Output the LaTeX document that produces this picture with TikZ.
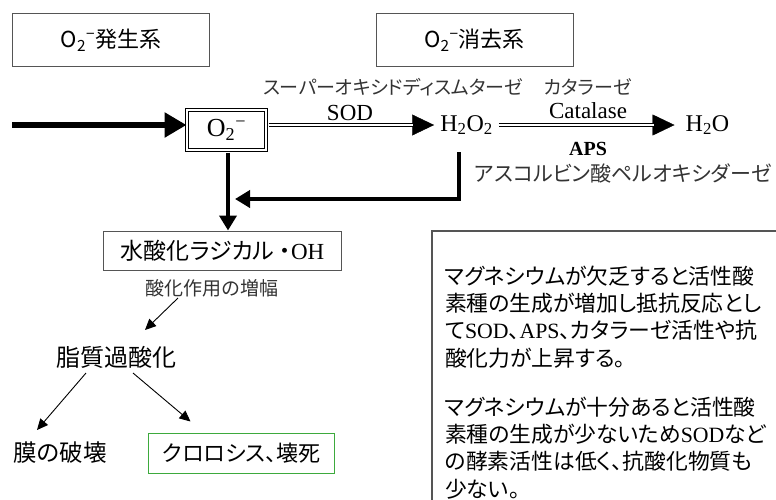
\documentclass[tikz,border=0pt]{standalone}
\usepackage{fontspec}
\setmainfont{Liberation Serif}
\newfontfamily\cjk[CharacterWidth=AlternateProportional]{Noto Sans CJK JP}
\usetikzlibrary{arrows.meta,calc}
\definecolor{bordergray}{HTML}{555555}
\definecolor{lblgray}{HTML}{333333}
\definecolor{boxgreen}{HTML}{3DAA3D}
\newcommand{\fs}[1]{\fontsize{#1}{#1}\selectfont}
\tikzset{
  hdr/.style={draw=bordergray, line width=1pt, minimum width=197pt, minimum height=53pt, inner sep=0pt, font=\cjk\fs{22}},
  o2b/.style={draw=black, double, double distance=2pt, line width=1pt, minimum width=79pt, minimum height=40pt, inner sep=0pt, font=\fs{26}},
  lbl/.style={inner sep=0pt, text=lblgray},
  chem/.style={inner ysep=0pt, font=\fs{24}},
  txt/.style={inner sep=0pt},
  hbox/.style={draw=bordergray, line width=1pt, minimum width=238pt, minimum height=39pt, inner sep=0pt, font=\cjk\fs{23}},
  gbox/.style={draw=boxgreen, line width=1pt, minimum width=186pt, minimum height=40pt, inner sep=0pt, font=\cjk\fs{22}},
  thickarr/.style={line width=6.5pt, -{Triangle[length=22pt,width=24pt]}},
  medarr/.style={line width=4pt, -{Triangle[length=15pt,width=17pt]}},
  tipline/.style={line width=0.4pt, -{Triangle[length=22pt,width=21pt]}},
  dbl/.style={double, double distance=2.4pt, line width=1.2pt},
  thinarr/.style={line width=0.9pt, -{Triangle[length=11pt,width=10pt]}},
  note/.style={inner sep=0pt, anchor=text, align=left, font=\cjk\fontsize{21.8}{27.3}\selectfont}
}
\begin{document}
\begin{tikzpicture}[x=1pt,y=-1pt]
\useasboundingbox (0,0) rectangle (776,499);

% header boxes
\node[hdr] (gen) at (111,40) {O\textsubscript{2}\textsuperscript{−}発生系\hspace{10pt}};
\node[hdr] (del) at (474.5,40) {O\textsubscript{2}\textsuperscript{−}消去系\hspace{10pt}};

% enzyme names
\node[lbl, font=\cjk\fs{19}] (sodname) at (393,87) {スーパーオキシドディスムターゼ};
\node[lbl, font=\cjk\fs{19}] (catname) at (588,87) {カタラーゼ};
\node[txt, font=\fs{23}] (sod) at (350,113) {SOD};
\node[txt, font=\fs{23}] (cat) at (588,111) {Catalase};
\node[txt, font=\fs{20}\bfseries] (aps) at (588,149) {APS};
\node[lbl, font=\cjk\fs{21}] (apsname) at (623,173) {アスコルビン酸ペルオキシダーゼ};

% species
\coordinate (start) at (12,125);
\node[o2b] (o2) at (226.5,130) {O\textsubscript{2}\textsuperscript{−}\hspace{22pt}};
\node[chem, inner xsep=6pt] (h2o2) at (466.5,125) {H\textsubscript{2}O\textsubscript{2}};
\node[chem, inner xsep=11pt] (h2o) at (707.5,125) {H\textsubscript{2}O};

% main arrows
\draw[thickarr] (start) -- (start -| o2.west);
\draw[tipline] ($(o2.east |- start)+(2,0)$) -- (h2o2.west);
\draw[dbl] ($(o2.east |- start)+(2,0)$) -- ($(h2o2.west)+(-21,0)$);
\draw[tipline] (h2o2.east) -- (h2o.west);
\draw[dbl] (h2o2.east) -- ($(h2o.west)+(-21,0)$);

% hydroxyl radical
\node[hbox] (oh) at (222.5,251) {水酸化ラジカル ・\rmfamily OH};
\draw[medarr] ($(o2.south)+(1.5,2)$) -- ($(oh.north)+(5.5,-0.5)$);
\coordinate (apsdrop) at ($(h2o2.center)+(-7.5,27)$);
\coordinate (retend) at (235,199);
\draw[medarr] (apsdrop) |- (retend);

% consequences
\node[lbl, font=\cjk\fs{19}] (amp) at (212,288) {酸化作用の増幅};
\node[txt, font=\cjk\fs{24}] (lipid) at (116,357) {脂質過酸化};
\node[txt, font=\cjk\fs{23.5}] (mem) at (60,453) {膜の破壊};
\node[gbox] (chl) at (241.5,453.5) {クロロシス、壊死};
\draw[thinarr] ($(amp.center)+(-34,10)$) -- ($(lipid.center)+(29,-27)$);
\draw[thinarr] ($(lipid.center)+(-30,16)$) -- ($(mem.center)+(-23,-23)$);
\draw[thinarr] ($(lipid.center)+(17,16)$) -- ($(chl.center)+(-51,-32)$);

% note box
\draw[bordergray, line width=1.3pt] (432,500) -- (432,231) -- (777,231);
\node[note] (note1) at (445,366) {マグネシウムが欠乏すると活性酸\\素種の生成が増加し抵抗反応とし\\て\rmfamily SOD\cjk 、\rmfamily APS\cjk 、カタラーゼ活性や抗\\酸化力が上昇する。};
\node[note] (note2) at (445,497) {マグネシウムが十分あると活性酸\\素種の生成が少ないため\rmfamily SOD\cjk など\\の酵素活性は低く、抗酸化物質も\\少ない。};
\end{tikzpicture}
\end{document}
